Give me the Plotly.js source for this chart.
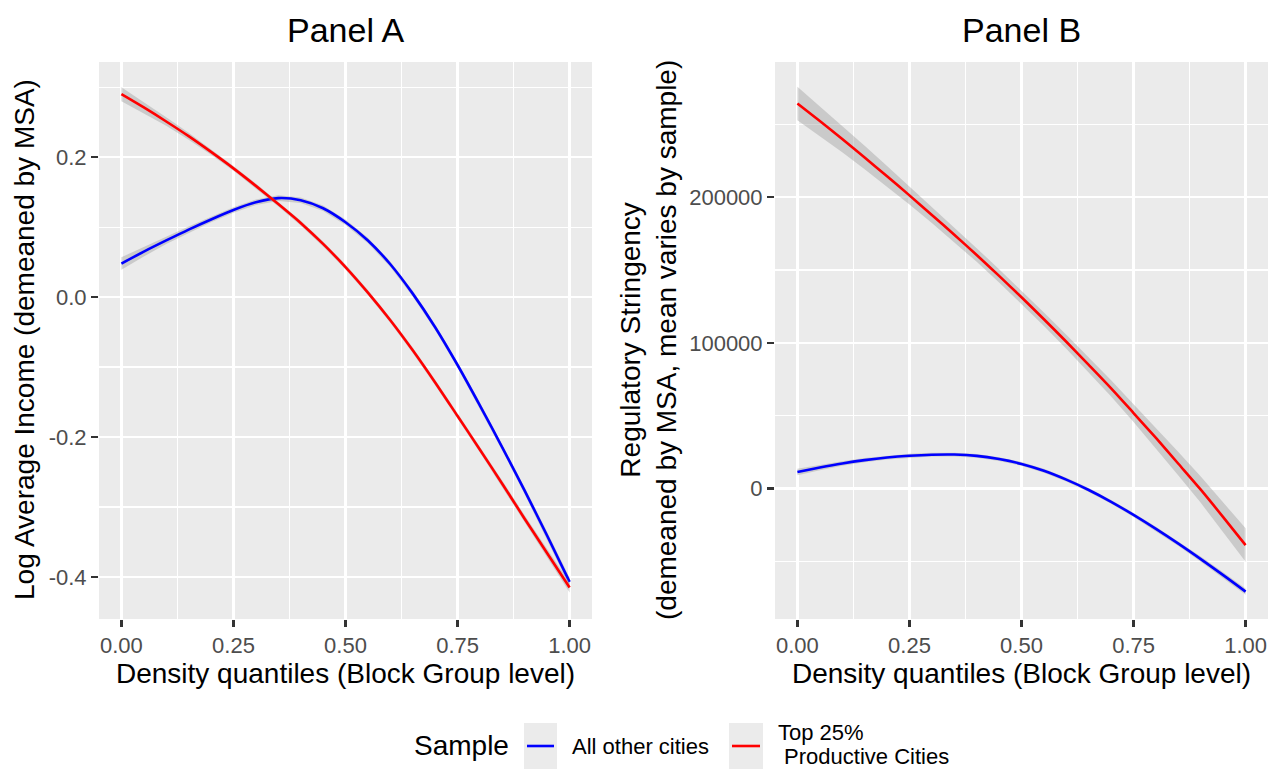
<!DOCTYPE html>
<html>
<head>
<meta charset="utf-8">
<script src="https://cdn.plot.ly/plotly-3.0.1.min.js"></script>
<style>html,body{margin:0;padding:0;background:#fff;}#chart{width:1279px;height:769px;}</style>
</head>
<body>
<div id="chart"></div>
<script>
// ---- data ----
const densityQuantiles = [0, 0.05, 0.1, 0.15, 0.2, 0.25, 0.3, 0.35, 0.4, 0.45, 0.5,
                          0.55, 0.6, 0.65, 0.7, 0.75, 0.8, 0.85, 0.9, 0.95, 1.0];
const seriesNames = ["All other cities", "Top 25%", "Productive Cities"];
const legendTitle = "Sample";

// Panel A: Log Average Income (demeaned by MSA)
const incomeOther   = [0.048, 0.065, 0.081, 0.0965, 0.111, 0.1245, 0.1355, 0.1415, 0.1385, 0.127, 0.107,
                       0.081, 0.047, 0.005, -0.043, -0.097, -0.155, -0.215, -0.277, -0.341, -0.407];
const incomeOtherSE = [0.009, 0.007, 0.005, 0.0045, 0.004, 0.004, 0.004, 0.004, 0.004, 0.004, 0.004,
                       0.004, 0.004, 0.004, 0.004, 0.004, 0.0045, 0.0045, 0.005, 0.0055, 0.006];
const incomeTop     = [0.290, 0.271, 0.251, 0.230, 0.2075, 0.184, 0.159, 0.133, 0.106, 0.076, 0.043,
                       0.0065, -0.033, -0.076, -0.122, -0.170, -0.218, -0.267, -0.317, -0.366, -0.415];
const incomeTopSE   = [0.010, 0.008, 0.006, 0.005, 0.004, 0.0035, 0.0035, 0.0035, 0.0035, 0.0035, 0.0035,
                       0.0035, 0.0035, 0.004, 0.004, 0.004, 0.004, 0.0045, 0.005, 0.006, 0.007];

// Panel B: Regulatory Stringency (demeaned by MSA, mean varies by sample)
const regOther   = [11400, 14500, 17300, 19600, 21400, 22600, 23300, 23400, 22500, 20300, 17000,
                    12300, 6200, -900, -9000, -18000, -27600, -37700, -48300, -59300, -70600];
const regOtherSE = [2200, 1800, 1500, 1400, 1300, 1300, 1300, 1300, 1300, 1300, 1300,
                    1300, 1300, 1300, 1300, 1400, 1500, 1600, 1800, 2000, 2200];
const regTop     = [264300, 252200, 239800, 227200, 214300, 201200, 187800, 174200, 160300, 146000, 131300,
                    116200, 100800, 84900, 68800, 51900, 34800, 17100, -700, -19500, -38700];
const regTopSE   = [11500, 10200, 9000, 8000, 7000, 6200, 5500, 5000, 4700, 4500, 4500,
                    4600, 4800, 5100, 5500, 6100, 7000, 8000, 9000, 10200, 11500];

const xTickVals = [0, 0.25, 0.5, 0.75, 1];
const xTickText = ["0.00", "0.25", "0.50", "0.75", "1.00"];
const xMinorVals = [0.125, 0.375, 0.625, 0.875];
const yATickVals = [-0.4, -0.2, 0.0, 0.2];
const yATickText = ["-0.4", "-0.2", "0.0", "0.2"];
const yAMinorVals = [-0.3, -0.1, 0.1, 0.3];
const yBTickVals = [0, 100000, 200000];
const yBTickText = ["0", "100000", "200000"];
const yBMinorVals = [-50000, 50000, 150000, 250000];

// ---- styling ----
const W = 1279, H = 769;
const BLUE = "#0000FF", RED = "#FF0000";
const RIBBON = "rgba(153,153,153,0.4)";
const FONT = "Liberation Sans, Arial, sans-serif";

function ribbon(x, y, se, xa, ya) {
  const up = y.map((v, i) => v + se[i]);
  const lo = y.map((v, i) => v - se[i]);
  return {
    x: x.concat(x.slice().reverse()),
    y: up.concat(lo.slice().reverse()),
    xaxis: xa, yaxis: ya, type: "scatter", mode: "lines",
    fill: "toself", fillcolor: RIBBON, line: {width: 0},
    hoverinfo: "skip", showlegend: false
  };
}
function curve(x, y, color, name, xa, ya) {
  return {x: x, y: y, xaxis: xa, yaxis: ya, type: "scatter", mode: "lines",
    line: {color: color, width: 2.6, shape: "spline", smoothing: 0.8}, name: name,
    showlegend: false};
}

const traces = [
  ribbon(densityQuantiles, incomeOther, incomeOtherSE, "x", "y"),
  curve(densityQuantiles, incomeOther, BLUE, seriesNames[0], "x", "y"),
  ribbon(densityQuantiles, incomeTop, incomeTopSE, "x", "y"),
  curve(densityQuantiles, incomeTop, RED, seriesNames[1] + " " + seriesNames[2], "x", "y"),
  ribbon(densityQuantiles, regOther, regOtherSE, "x2", "y2"),
  curve(densityQuantiles, regOther, BLUE, seriesNames[0], "x2", "y2"),
  ribbon(densityQuantiles, regTop, regTopSE, "x2", "y2"),
  curve(densityQuantiles, regTop, RED, seriesNames[1] + " " + seriesNames[2], "x2", "y2")
];

function px(v) { return v / W; }
function py(v) { return 1 - v / H; }

const axisCommon = {
  ticks: "outside", ticklen: 7, tickwidth: 2.4, tickcolor: "#333333",
  showgrid: true, gridcolor: "#FFFFFF", gridwidth: 2.4,
  zeroline: false, showline: false, automargin: false,
  tickfont: {family: FONT, size: 22, color: "#4D4D4D"},
  fixedrange: true
};
function minorGrid(vals) {
  return {tickmode: "array", tickvals: vals, showgrid: true, gridcolor: "#FFFFFF", gridwidth: 1.2, ticks: ""};
}
function xAxis(domain, anchor) {
  return Object.assign({}, axisCommon, {
    domain: domain, anchor: anchor, range: [-0.05, 1.05],
    tickmode: "array", tickvals: xTickVals, ticktext: xTickText,
    minor: minorGrid(xMinorVals),
    title: {text: "Density quantiles (Block Group level)", font: {family: FONT, size: 28, color: "#000"}, standoff: 3}
  });
}

const legendFont = {family: FONT, size: 22, color: "#000"};
const layout = {
  width: W, height: H,
  margin: {l: 0, r: 0, t: 0, b: 0, autoexpand: false},
  paper_bgcolor: "#FFFFFF", plot_bgcolor: "#EBEBEB",
  font: {family: FONT},
  showlegend: false,
  xaxis: xAxis([px(99), px(592)], "y"),
  xaxis2: xAxis([px(775), px(1268)], "y2"),
  yaxis: Object.assign({}, axisCommon, {
    domain: [py(619), py(62)], anchor: "x", range: [-0.46, 0.336],
    tickmode: "array", tickvals: yATickVals, ticktext: yATickText,
    minor: minorGrid(yAMinorVals)
  }),
  yaxis2: Object.assign({}, axisCommon, {
    domain: [py(619), py(62)], anchor: "x2", range: [-89400, 292700],
    tickmode: "array", tickvals: yBTickVals, ticktext: yBTickText,
    minor: minorGrid(yBMinorVals)
  }),
  // legend (ggplot style keys)
  shapes: [
    {type: "rect", xref: "paper", yref: "paper", x0: px(524), x1: px(557), y0: py(770), y1: py(723), fillcolor: "#EBEBEB", line: {width: 0}},
    {type: "line", xref: "paper", yref: "paper", x0: px(527), x1: px(554), y0: py(746), y1: py(746), line: {color: BLUE, width: 2.6}},
    {type: "rect", xref: "paper", yref: "paper", x0: px(729), x1: px(763), y0: py(770), y1: py(723), fillcolor: "#EBEBEB", line: {width: 0}},
    {type: "line", xref: "paper", yref: "paper", x0: px(732), x1: px(760), y0: py(746), y1: py(746), line: {color: RED, width: 2.6}}
  ],
  annotations: [
    {text: "Panel A", xref: "paper", yref: "paper", x: px(345.5), y: py(30), xanchor: "center", yanchor: "middle", showarrow: false, font: {family: FONT, size: 34, color: "#000"}},
    {text: "Panel B", xref: "paper", yref: "paper", x: px(1021.5), y: py(30), xanchor: "center", yanchor: "middle", showarrow: false, font: {family: FONT, size: 34, color: "#000"}},
    {text: "Log Average Income (demeaned by MSA)", xref: "paper", yref: "paper", x: px(24), y: py(340), xanchor: "center", yanchor: "middle", textangle: -90, showarrow: false, font: {family: FONT, size: 28, color: "#000"}},
    {text: "Regulatory Stringency<br>(demeaned by MSA, mean varies by sample)", xref: "paper", yref: "paper", x: px(648), y: py(340), xanchor: "center", yanchor: "middle", textangle: -90, showarrow: false, font: {family: FONT, size: 28, color: "#000"}},
    {text: legendTitle, xref: "paper", yref: "paper", x: px(412), y: py(745), xanchor: "left", yanchor: "middle", showarrow: false, font: {family: FONT, size: 28, color: "#000"}},
    {text: seriesNames[0], xref: "paper", yref: "paper", x: px(570), y: py(746), xanchor: "left", yanchor: "middle", showarrow: false, font: legendFont},
    {text: seriesNames[1], xref: "paper", yref: "paper", x: px(777), y: py(732), xanchor: "left", yanchor: "middle", showarrow: false, font: legendFont, borderpad: 0},
    {text: "\u00A0" + seriesNames[2], xref: "paper", yref: "paper", x: px(777), y: py(756.5), xanchor: "left", yanchor: "middle", showarrow: false, font: legendFont, borderpad: 0}
  ]
};

Plotly.newPlot("chart", traces, layout, {staticPlot: true, displayModeBar: false});
</script>
</body>
</html>
